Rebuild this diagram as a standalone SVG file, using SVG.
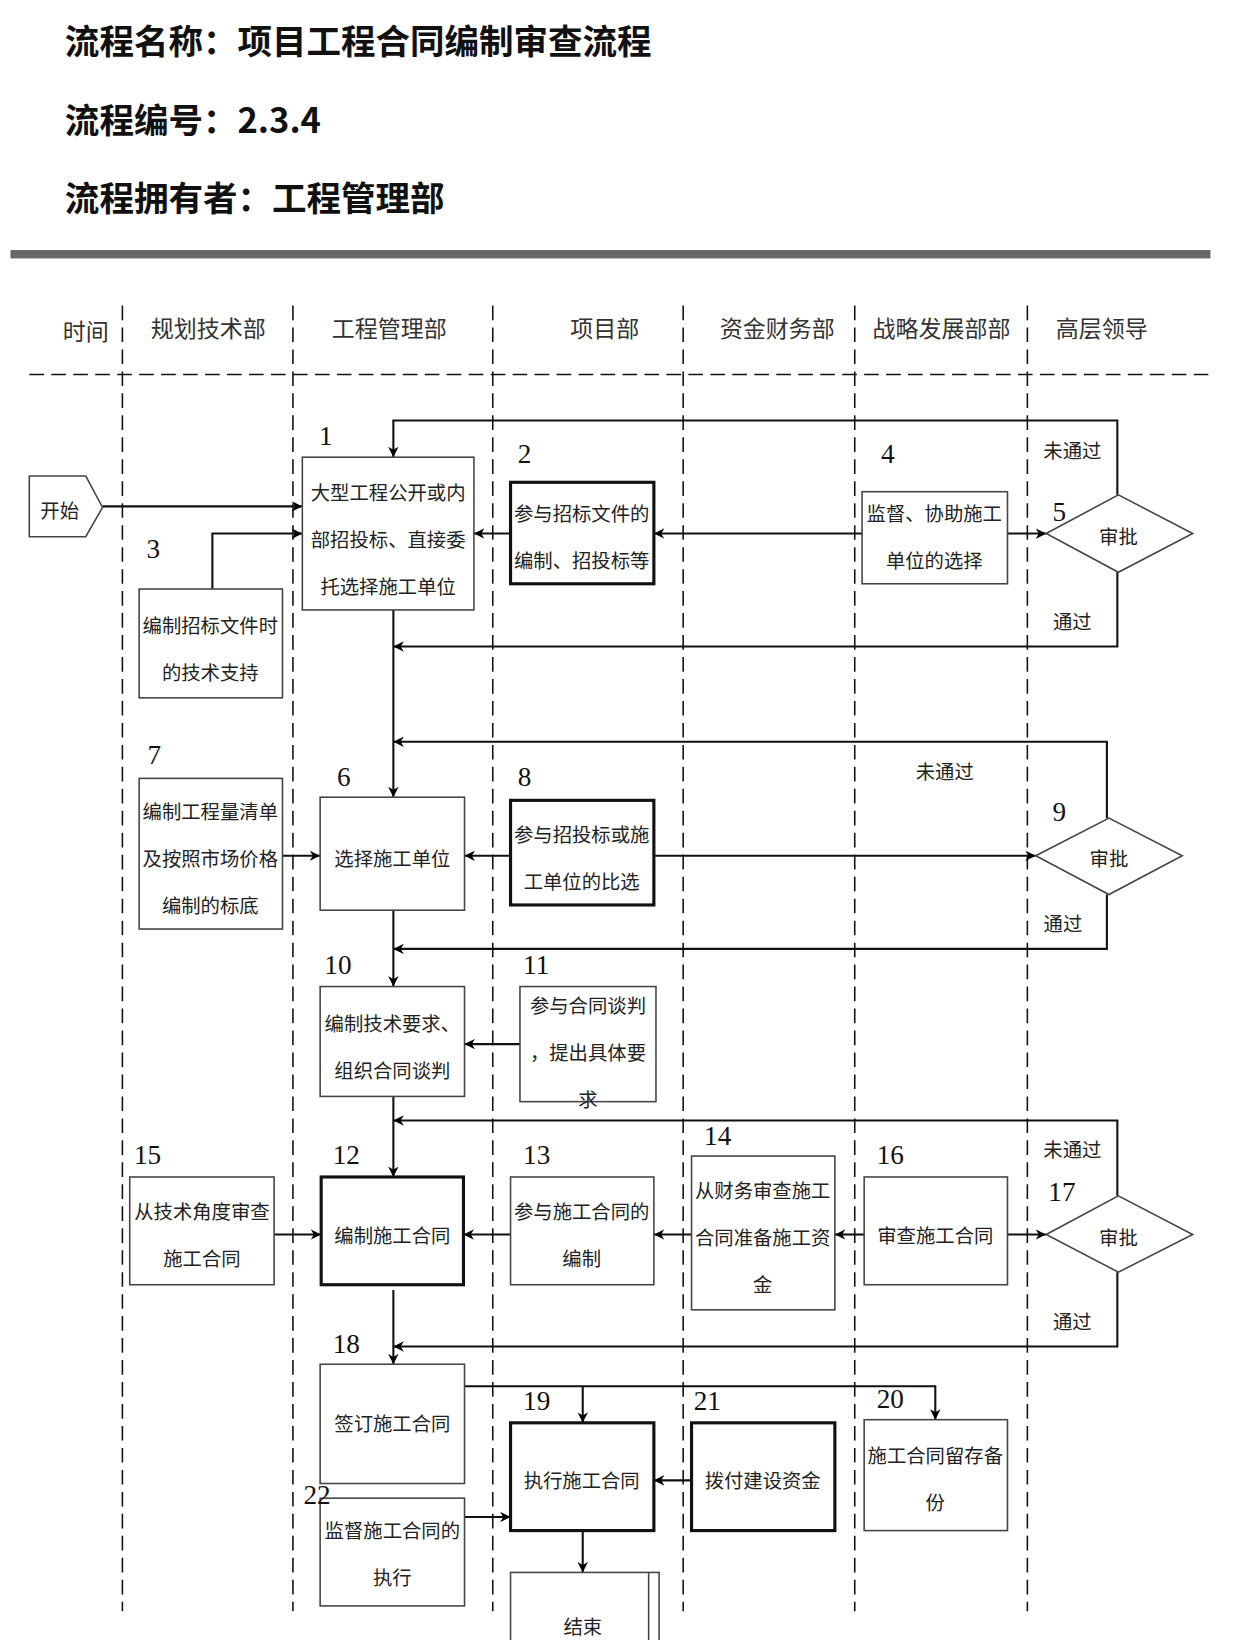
<svg xmlns="http://www.w3.org/2000/svg" width="1245" height="1640" viewBox="0 0 1245 1640">
<defs>
<marker id="ar" viewBox="0 0 10 10" refX="10" refY="5" markerWidth="10" markerHeight="10" orient="auto" markerUnits="userSpaceOnUse">
<path d="M0,0 L10,5 L0,10 L3,5 Z" fill="#000"/>
</marker>
<style>
.t{font-family:"Noto Sans CJK SC","Noto Sans",sans-serif;font-size:18.5px;fill:#222;text-anchor:middle}
.h{font-family:"Noto Sans CJK SC","Noto Sans",sans-serif;font-size:22px;fill:#333;text-anchor:middle}
.ti{font-family:"Noto Sans CJK SC",sans-serif;font-size:33px;font-weight:bold;fill:#111}
.n{font-family:"Liberation Serif",serif;font-size:26px;fill:#111}
.b{fill:#fff;stroke:#444;stroke-width:1.5}
.bb{fill:#fff;stroke:#111;stroke-width:3}
.ca{fill:none;stroke:#111;stroke-width:2;marker-end:url(#ar)}
.ln{stroke:#111;stroke-width:1.5;stroke-dasharray:14,7}
</style>
</defs>
<rect width="1245" height="1640" fill="#fff"/>
<g transform="scale(1.0462)">
<g id="title">
<text class="ti" x="62" y="52">流程名称：项目工程合同编制审查流程</text>
<text class="ti" x="62" y="127">流程编号：2.3.4</text>
<text class="ti" x="62" y="202">流程拥有者：工程管理部</text>
<rect x="10" y="239" width="1147" height="8" fill="#666"/>
</g>
<g id="lanes">
<text class="h" x="82" y="325">时间</text>
<text class="h" x="199" y="322">规划技术部</text>
<text class="h" x="372" y="322">工程管理部</text>
<text class="h" x="578" y="322">项目部</text>
<text class="h" x="743" y="322">资金财务部</text>
<text class="h" x="900" y="322">战略发展部部</text>
<text class="h" x="1053" y="322">高层领导</text>
<line class="ln" x1="28" y1="358" x2="1157" y2="358" stroke-width="3"/>
<line class="ln" x1="117" y1="292" x2="117" y2="1540"/>
<line class="ln" x1="280" y1="292" x2="280" y2="1540"/>
<line class="ln" x1="471" y1="292" x2="471" y2="1540"/>
<line class="ln" x1="653" y1="292" x2="653" y2="1540"/>
<line class="ln" x1="817" y1="292" x2="817" y2="1540"/>
<line class="ln" x1="982" y1="292" x2="982" y2="1540"/>
</g>
<g id="connectors">
<path class="ca" d="M98,484 H289"/>
<path class="ca" d="M203,563 V510 H289"/>
<path class="ca" d="M488,510 H453"/>
<path class="ca" d="M824,510 H625"/>
<path class="ca" d="M963,510 H1000"/>
<path class="ca" d="M1068,473 V402 H376 V437"/>
<path class="ca" d="M1068,547 V618 H376"/>
<path class="ca" d="M376,583 V762"/>
<path class="ca" d="M270,818 H306"/>
<path class="ca" d="M488,818 H444"/>
<path class="ca" d="M625,818 H990"/>
<path class="ca" d="M1058,782 V709 H376"/>
<path class="ca" d="M1058,855 V907 H376"/>
<path class="ca" d="M376,870 V943"/>
<path class="ca" d="M497,998 H444"/>
<path class="ca" d="M376,1048 V1125"/>
<path class="ca" d="M1068,1143 V1071 H376"/>
<path class="ca" d="M262,1180 H307"/>
<path class="ca" d="M488,1180 H443"/>
<path class="ca" d="M661,1180 H625"/>
<path class="ca" d="M826,1180 H798"/>
<path class="ca" d="M963,1180 H1000"/>
<path class="ca" d="M1068,1216 V1287 H376"/>
<path class="ca" d="M376,1233 V1304"/>
<path class="ca" d="M444,1325 H894 V1357"/>
<path class="ca" d="M557,1325 V1360"/>
<path class="ca" d="M661,1415 H625"/>
<path class="ca" d="M444,1450 H488"/>
<path class="ca" d="M557,1463 V1503"/>
<text class="t" x="1025" y="438">未通过</text>
<text class="t" x="1025" y="601">通过</text>
<text class="t" x="903" y="745">未通过</text>
<text class="t" x="1016" y="890">通过</text>
<text class="t" x="1025" y="1106">未通过</text>
<text class="t" x="1025" y="1270">通过</text>
</g>
<g id="start"><path class="b" d="M28,455 H82 L98,485 L82,513 H28 Z"/><text class="t" x="57" y="495">开始</text></g>
<g id="n1"><rect class="b" x="289" y="437" width="164" height="146"/><text class="n" x="305" y="425">1</text>
<text class="t" x="371" y="478">大型工程公开或内</text><text class="t" x="371" y="523">部招投标、直接委</text><text class="t" x="371" y="568">托选择施工单位</text></g>
<g id="n2"><rect class="bb" x="488" y="461" width="137" height="97"/><text class="n" x="495" y="443">2</text>
<text class="t" x="556" y="498">参与招标文件的</text><text class="t" x="556" y="543">编制、招投标等</text></g>
<g id="n3"><rect class="b" x="133" y="563" width="137" height="104"/><text class="n" x="140" y="533">3</text>
<text class="t" x="201" y="605">编制招标文件时</text><text class="t" x="201" y="650">的技术支持</text></g>
<g id="n4"><rect class="b" x="824" y="470" width="139" height="88"/><text class="n" x="842" y="443">4</text>
<text class="t" x="893" y="498">监督、协助施工</text><text class="t" x="893" y="543">单位的选择</text></g>
<g id="d5"><path class="b" d="M1000,510 L1069,473 L1140,510 L1069,547 Z"/><text class="n" x="1006" y="498">5</text><text class="t" x="1069" y="520">审批</text></g>
<g id="n7"><rect class="b" x="133" y="744" width="137" height="144"/><text class="n" x="141" y="730">7</text>
<text class="t" x="201" y="783">编制工程量清单</text><text class="t" x="201" y="828">及按照市场价格</text><text class="t" x="201" y="873">编制的标底</text></g>
<g id="n6"><rect class="b" x="306" y="762" width="138" height="108"/><text class="n" x="322" y="751">6</text>
<text class="t" x="375" y="828">选择施工单位</text></g>
<g id="n8"><rect class="bb" x="488" y="765" width="137" height="100"/><text class="n" x="495" y="751">8</text>
<text class="t" x="556" y="805">参与招投标或施</text><text class="t" x="556" y="850">工单位的比选</text></g>
<g id="d9"><path class="b" d="M990,818 L1060,782 L1130,818 L1060,855 Z"/><text class="n" x="1006" y="785">9</text><text class="t" x="1060" y="828">审批</text></g>
<g id="n10"><rect class="b" x="306" y="943" width="138" height="105"/><text class="n" x="310" y="931">10</text>
<text class="t" x="375" y="985">编制技术要求、</text><text class="t" x="375" y="1030">组织合同谈判</text></g>
<g id="n11"><rect class="b" x="497" y="943" width="130" height="110"/><text class="n" x="500" y="931">11</text>
<text class="t" x="562" y="968">参与合同谈判</text><text class="t" x="562" y="1013">，提出具体要</text><text class="t" x="562" y="1058">求</text></g>
<g id="n15"><rect class="b" x="124" y="1125" width="138" height="103"/><text class="n" x="128" y="1113">15</text>
<text class="t" x="193" y="1165">从技术角度审查</text><text class="t" x="193" y="1210">施工合同</text></g>
<g id="n12"><rect class="bb" x="307" y="1125" width="136" height="103"/><text class="n" x="318" y="1113">12</text>
<text class="t" x="375" y="1188">编制施工合同</text></g>
<g id="n13"><rect class="b" x="488" y="1125" width="137" height="103"/><text class="n" x="500" y="1113">13</text>
<text class="t" x="556" y="1165">参与施工合同的</text><text class="t" x="556" y="1210">编制</text></g>
<g id="n14"><rect class="b" x="661" y="1105" width="137" height="147"/><text class="n" x="673" y="1094">14</text>
<text class="t" x="729" y="1145">从财务审查施工</text><text class="t" x="729" y="1190">合同准备施工资</text><text class="t" x="729" y="1235">金</text></g>
<g id="n16"><rect class="b" x="826" y="1125" width="137" height="103"/><text class="n" x="838" y="1113">16</text>
<text class="t" x="894" y="1188">审查施工合同</text></g>
<g id="d17"><path class="b" d="M1000,1180 L1069,1143 L1140,1180 L1069,1216 Z"/><text class="n" x="1002" y="1148">17</text><text class="t" x="1069" y="1190">审批</text></g>
<g id="n18"><rect class="b" x="306" y="1304" width="138" height="114"/><text class="n" x="318" y="1293">18</text>
<text class="t" x="375" y="1368">签订施工合同</text></g>
<g id="n19"><rect class="bb" x="488" y="1360" width="137" height="103"/><text class="n" x="500" y="1348">19</text>
<text class="t" x="556" y="1422">执行施工合同</text></g>
<g id="n21"><rect class="bb" x="661" y="1360" width="137" height="103"/><text class="n" x="663" y="1348">21</text>
<text class="t" x="729" y="1422">拨付建设资金</text></g>
<g id="n20"><rect class="b" x="826" y="1357" width="137" height="106"/><text class="n" x="838" y="1346">20</text>
<text class="t" x="894" y="1398">施工合同留存备</text><text class="t" x="894" y="1443">份</text></g>
<g id="n22"><rect class="b" x="306" y="1432" width="138" height="103"/><text class="n" x="290" y="1438">22</text>
<text class="t" x="375" y="1470">监督施工合同的</text><text class="t" x="375" y="1515">执行</text></g>
<g id="end"><rect class="b" x="488" y="1503" width="142" height="80"/><line x1="620" y1="1503" x2="620" y2="1583" stroke="#444" stroke-width="1.5"/>
<text class="t" x="557" y="1562">结束</text></g>
</g>
</svg>
